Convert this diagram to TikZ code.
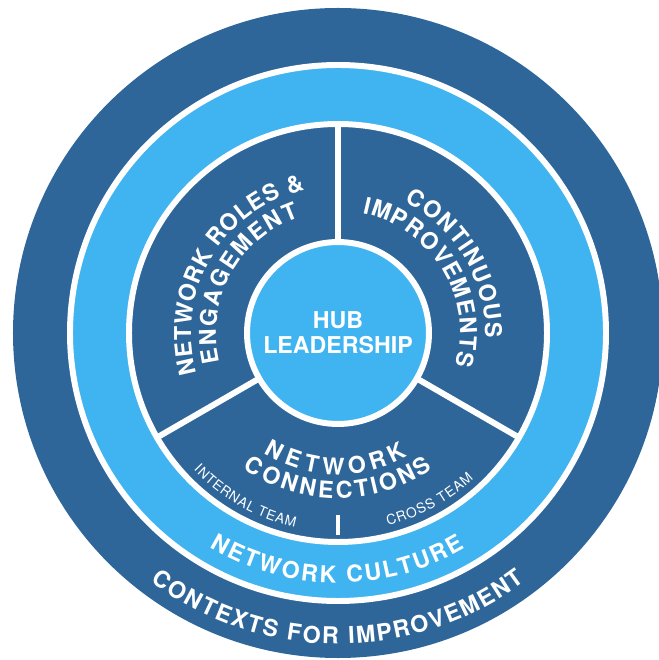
\documentclass[tikz,border=0pt]{standalone}
\usepackage{fontspec}
\setmainfont{TeX Gyre Heros}
\usetikzlibrary{decorations.text}
\definecolor{hubdark}{RGB}{46,102,154}
\definecolor{hublight}{RGB}{63,180,240}
\newcommand{\bigfont}{\fontsize{13.2}{14.2}\selectfont\bfseries}
\newcommand{\smallfont}{\fontsize{7.8}{8.5}\selectfont}

\begin{document}
\begin{tikzpicture}[scale=0.02,
        whiteline/.style={draw=white, line width=3.4pt},
        arctext/.style={decorate, decoration={text along path, text={#1}, text align=fit to path, text color=white}},
        hub/.style={circle, fill=hublight, draw=white, line width=3.4pt, minimum size=3.64cm, inner sep=0pt, text=white, align=center, font=\bigfont}
    ]

    % page
    \fill[white] (-338,-327) rectangle (320,333);
    \useasboundingbox (-338,-327) rectangle (320,333);

    % Contexts for improvement
    \fill[hubdark] (0,0) circle[radius=325];

    % Network culture band
    \filldraw[fill=hublight, whiteline] (0,0) circle[radius=268];

    % Three sectors
    \filldraw[fill=hubdark, whiteline] (0,0) circle[radius=209];
    \draw[whiteline] (0,0) -- (90:209);
    \draw[whiteline] (0,0) -- (210:209);
    \draw[whiteline] (0,0) -- (-30:209);

    % Hub leadership
    \node[hub] (hub) at (0,0) {HUB\\LEADERSHIP};

    % Sector labels
    \path[arctext={|\bigfont|NETWORK ROLES {\&}}] (196:147) arc[start angle=196, end angle=103, radius=147];
    \path[arctext={|\bigfont|ENGAGEMENT}] (194:122) arc[start angle=194, end angle=108.5, radius=122];
    \path[arctext={|\bigfont|CONTINUOUS}] (63:147) arc[start angle=63, end angle=-2, radius=147];
    \path[arctext={|\bigfont|IMPROVEMENTS}] (78.5:122) arc[start angle=78.5, end angle=-15.5, radius=122];
    \path[arctext={|\bigfont|NETWORK}] (238.5:141.5) arc[start angle=238.5, end angle=299.5, radius=141.5];
    \path[arctext={|\bigfont|CONNECTIONS}] (235:165.5) arc[start angle=235, end angle=305, radius=165.5];

    % Connection types
    \path[arctext={|\smallfont|INTERNAL TEAM}] (223.5:199) arc[start angle=223.5, end angle=257.5, radius=199];
    \path[arctext={|\smallfont|CROSS TEAM}] (284.5:199) arc[start angle=284.5, end angle=313, radius=199];
    \draw[whiteline, line width=2.8pt] (270:182) -- (270:202);

    % Band labels
    \path[arctext={|\bigfont|NETWORK CULTURE}] (239:250) arc[start angle=239, end angle=300.5, radius=250];
    \path[arctext={|\bigfont|CONTEXTS FOR IMPROVEMENT}] (233:311) arc[start angle=233, end angle=307, radius=311];

\end{tikzpicture}
\end{document}
